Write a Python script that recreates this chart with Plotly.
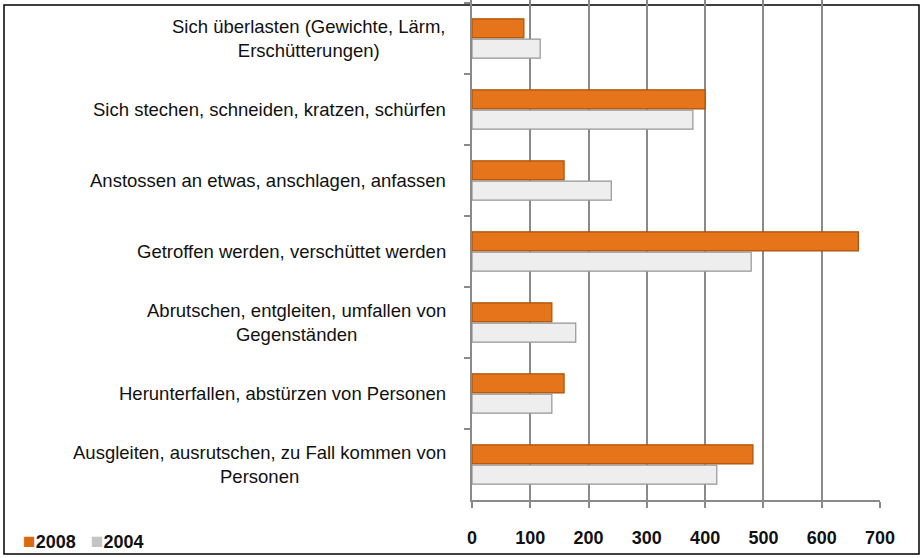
import plotly.graph_objects as go

# Data (categories listed top-to-bottom as in the chart)
categories = [
    "Sich überlasten (Gewichte, Lärm,<br>Erschütterungen)",
    "Sich stechen, schneiden, kratzen, schürfen",
    "Anstossen an etwas, anschlagen, anfassen",
    "Getroffen werden, verschüttet werden",
    "Abrutschen, entgleiten, umfallen von<br>Gegenständen",
    "Herunterfallen, abstürzen von Personen",
    "Ausgleiten, ausrutschen, zu Fall kommen von<br>Personen",
]
values_2008 = [89, 400, 158, 663, 137, 158, 482]
values_2004 = [117, 379, 239, 479, 178, 137, 420]
x_ticks = [0, 100, 200, 300, 400, 500, 600, 700]
series_names = ["2008", "2004"]
series_colors = ["#E5741A", "#EEEEEE"]
series_edges = ["#A9520C", "#959595"]
legend_swatch = ["#D96A14", "#C4C4C4"]

W, H = 923, 558
L, R, T, B = 472, 43, 0, 58
pw, ph = W - L - R, H - T - B

fig = go.Figure()
for name, vals, col, edge in zip(series_names, [values_2008, values_2004],
                                 series_colors, series_edges):
    fig.add_trace(go.Bar(
        y=categories, x=vals, orientation="h", name=name,
        marker=dict(color=col, line=dict(color=edge, width=1.2)),
        showlegend=False,
    ))

# category labels as annotations (centre-aligned multi-line blocks)
for c in categories:
    fig.add_annotation(
        x=0, xref="paper", y=c, yref="y", text=c, showarrow=False,
        xanchor="right", yanchor="middle", align="center", xshift=-24,
        font=dict(family="Liberation Sans, Arial, sans-serif", size=18.5, color="#111111"),
    )

# compact legend (small square swatch right before the bold label)
legend_text = "&nbsp;&nbsp;&nbsp;".join(
    f"<span style='color:{sw};font-size:21px'>■</span><b>{nm}</b>"
    for nm, sw in zip(series_names, legend_swatch)
)
fig.add_annotation(
    x=(21 - L) / pw, xref="paper", y=((H - B) - 540) / ph, yref="paper",
    text=legend_text, showarrow=False, xanchor="left", yanchor="middle",
    font=dict(family="Liberation Sans, Arial, sans-serif", size=18, color="#111111"),
)

# outer frame
fig.add_shape(
    type="rect", xref="paper", yref="paper", layer="below",
    x0=(4 - L) / pw, x1=(919 - L) / pw,
    y0=((H - B) - 554) / ph, y1=((H - B) - 5) / ph,
    line=dict(color="#000000", width=1.5), fillcolor="rgba(0,0,0,0)",
)

n = len(categories)
fig.update_layout(
    width=W, height=H,
    margin=dict(l=L, r=R, t=T, b=B, pad=0),
    paper_bgcolor="white", plot_bgcolor="rgba(0,0,0,0)",
    barmode="group", bargap=0.43, bargroupgap=0.06,
    showlegend=False,
    xaxis=dict(
        range=[0, 700], tickvals=x_ticks, ticktext=[str(v) for v in x_ticks],
        showgrid=True, gridcolor="#8A8A8A", gridwidth=1.5,
        showline=True, linecolor="#8A8A8A", linewidth=1.5,
        ticks="outside", ticklen=6, tickcolor="#8A8A8A", tickwidth=1.5,
        ticklabelstandoff=15, zeroline=False,
        tickfont=dict(family="Liberation Sans, Arial, sans-serif",
                      size=18, color="#111111", weight="bold"),
    ),
    yaxis=dict(
        categoryorder="array", categoryarray=categories,
        range=[n - 0.5, -0.5 - 3 / 71], showticklabels=False,
        showline=True, linecolor="#8A8A8A", linewidth=1.5,
        ticks="outside", ticklen=6, tickcolor="#8A8A8A", tickwidth=1.5,
        tickson="boundaries", showgrid=False, zeroline=False,
    ),
)

fig.write_html("out.html", config={"displayModeBar": False},
               post_script="document.body.style.margin='0';")
